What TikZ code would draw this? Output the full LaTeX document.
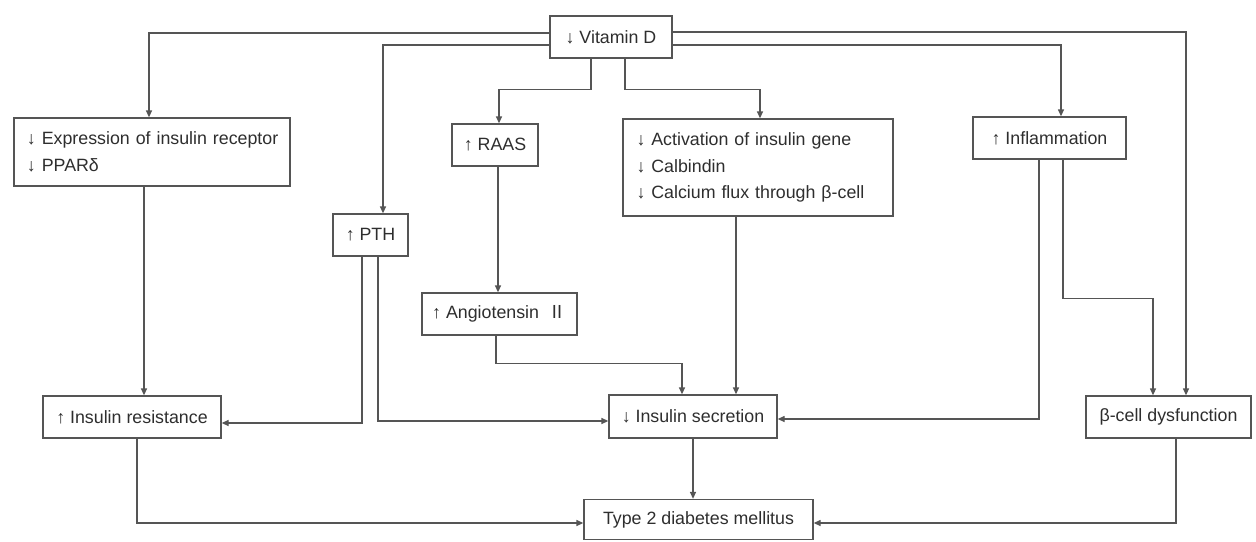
\documentclass[tikz,border=0pt]{standalone}
\usepackage{fontspec}
\setmainfont{Liberation Sans}
\newfontfamily\cjk{Noto Sans CJK SC}
\usetikzlibrary{arrows.meta}
\definecolor{linegray}{HTML}{555555}
\definecolor{txtgray}{HTML}{2E2E2E}
\tikzset{
  box/.style={draw=linegray, line width=1.3pt, inner sep=0pt, text=txtgray,
    font=\fontsize{17.8pt}{26.5pt}\selectfont},
  multibox/.style={box, align=left},
  arr/.style={draw=linegray, line width=1.3pt, -{Triangle[length=7pt,width=6pt]}},
}
\begin{document}
\begin{tikzpicture}[x=1pt,y=-1pt]
\useasboundingbox (0,0) rectangle (1256,541);
\fill[white] (0,0) rectangle (1256,541);

\node[box, minimum width=122pt, minimum height=42pt] (vitd) at (611,37) {↓ Vitamin D};
\node[multibox, minimum width=276pt, minimum height=68pt, text width=250pt] (expr) at (152,152)
  {\mbox{↓ Expression of insulin receptor}\\↓ PPARδ};
\node[box, minimum width=86pt, minimum height=42pt] (raas) at (495,145) {↑ RAAS};
\node[multibox, minimum width=270pt, minimum height=97pt, text width=243pt] (act) at (758,167.5)
  {\mbox{↓ Activation of insulin gene}\\↓ Calbindin\\\mbox{↓ Calcium flux through β-cell}};
\node[box, minimum width=153pt, minimum height=42pt] (infl) at (1049.5,138) {↑ Inflammation};
\node[box, minimum width=75pt, minimum height=42pt] (pth) at (370.5,235) {↑ PTH};
\node[box, minimum width=155pt, minimum height=42pt] (ang) at (499.5,314) {↑ Angiotensin\ \ {\cjk Ⅱ}};
\node[box, minimum width=178pt, minimum height=42pt] (ir) at (132,417) {↑ Insulin resistance};
\node[box, minimum width=168pt, minimum height=43pt] (is) at (693,416.5) {↓ Insulin secretion};
\node[box, minimum width=165pt, minimum height=42pt] (beta) at (1168.5,417) {β-cell dysfunction};
\node[box, minimum width=229pt, minimum height=40pt] (t2dm) at (698.5,519.5) {Type 2 diabetes mellitus};

% from Vitamin D
\draw[arr] ([yshift=4pt]vitd.west) -| ([xshift=-3pt]expr.north);
\draw[arr] ([yshift=-8pt]vitd.west) -| ([xshift=12.5pt]pth.north);
\draw[arr] ([yshift=5pt]vitd.east) -| ([xshift=17.5pt]beta.north);
\draw[arr] ([yshift=-8pt]vitd.east) -| ([xshift=11.5pt]infl.north);
\draw[arr] ([xshift=-20pt]vitd.south) -- ++(0,-31pt) -| ([xshift=4pt]raas.north);
\draw[arr] ([xshift=14pt]vitd.south) -- ++(0,-31pt) -| ([xshift=2pt]act.north);

% middle level
\draw[arr] ([xshift=-8pt]expr.south) -- ([xshift=12pt]ir.north);
\draw[arr] ([xshift=3pt]raas.south) -- ([xshift=-1.5pt]ang.north);
\draw[arr] ([xshift=-8.5pt]pth.south) |- ([yshift=-6pt]ir.east);
\draw[arr] ([xshift=7.5pt]pth.south) |- ([yshift=-4.5pt]is.west);
\draw[arr] ([xshift=-3.5pt]ang.south) -- ++(0,-28pt) -| ([xshift=-11pt]is.north);
\draw[arr] ([xshift=-22pt]act.south) -- ([xshift=43pt]is.north);
\draw[arr] ([xshift=-10.5pt]infl.south) |- ([yshift=-2.5pt]is.east);
\draw[arr] ([xshift=13.5pt]infl.south) -- ++(0,-139pt) -| ([xshift=-15.5pt]beta.north);

% to T2DM
\draw[arr] (is.south) -- ([xshift=-5.5pt]t2dm.north);
\draw[arr] ([xshift=5pt]ir.south) |- ([yshift=-3.5pt]t2dm.west);
\draw[arr] ([xshift=7.5pt]beta.south) |- ([yshift=-3.5pt]t2dm.east);
\end{tikzpicture}
\end{document}
